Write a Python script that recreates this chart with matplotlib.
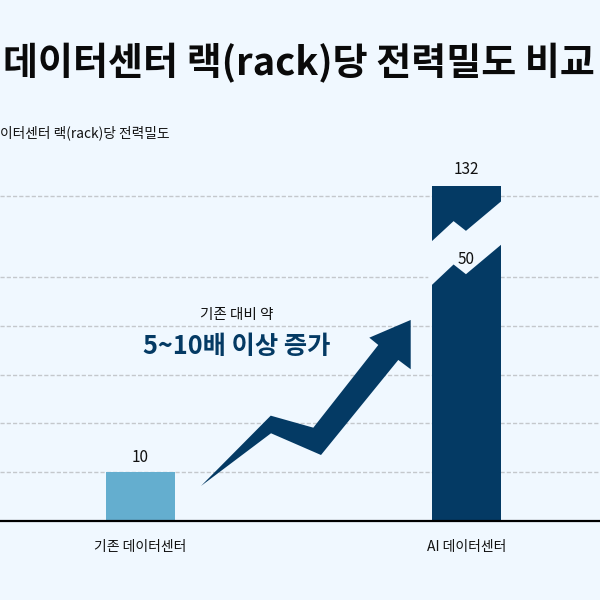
import matplotlib
matplotlib.use("Agg")
import matplotlib.pyplot as plt
from matplotlib.patches import Polygon
import numpy as np

# data
categories = ["기존 데이터센터", "AI 데이터센터"]
legacy_value = 10
ai_low = 50
ai_high = 132
gridline_values = [10, 20, 30, 40, 50, 130]

title = "데이터센터 랙(rack)당 전력밀도 비교"
subtitle = "이터센터 랙(rack)당 전력밀도"
note_small = "기존 대비 약"
note_big = "5~10배 이상 증가"

# colours
bg = "#f0f8ff"
light_blue = "#64aecf"
navy = "#043a64"

plt.rcParams["font.family"] = ["Noto Sans CJK KR", "DejaVu Sans"]

# broken y axis: values between lo and hi are squeezed almost to nothing
lo, hi, squeeze = 57.0, 122.0, 0.026
d_hi = lo + (hi - lo) * squeeze


def fwd(v):
    v = np.asarray(v, dtype=float)
    return np.where(v <= lo, v, np.where(v <= hi, lo + (v - lo) * squeeze, d_hi + (v - hi)))


def inv(d):
    d = np.asarray(d, dtype=float)
    return np.where(d <= lo, d, np.where(d <= d_hi, lo + (d - lo) / squeeze, hi + (d - d_hi)))


fig = plt.figure(figsize=(6, 6), dpi=100, facecolor=bg)
ax = fig.add_axes([0, 0.1322, 1, 0.6178])
ax.set_facecolor(bg)
ax.set_yscale("function", functions=(fwd, inv))
ax.set_ylim(0, float(inv(76.1)))
ax.set_xlim(-0.4312, 1.4104)

bar_w = 0.212
ax.bar(0, legacy_value, width=bar_w, color=light_blue, zorder=2)
ax.bar(1, ai_high, width=bar_w, color=navy, zorder=2)

# zig-zag break cut through the AI bar (in linear "display" units)
cut_f = np.array([-0.05, 0.316, 0.495, 1.05])
cut_lower = np.array([47.7, 52.6, 50.6, 57.2])
cut_upper = np.array([56.7, 61.5, 59.5, 66.1])
cut_x = 1 - bar_w / 2 + cut_f * bar_w
cut_pts = np.column_stack([
    np.concatenate([cut_x, cut_x[::-1]]),
    inv(np.concatenate([cut_lower, cut_upper[::-1]])),
])
ax.add_patch(Polygon(cut_pts, closed=True, facecolor=bg, edgecolor="none", zorder=3))

# value labels
ax.annotate(str(legacy_value), (0, legacy_value), xytext=(0, 10.5), textcoords="offset points",
            ha="center", va="center", fontsize=11, color="#111111", zorder=4)
ax.annotate(str(ai_low), (1, ai_low), xytext=(0, 13), textcoords="offset points",
            ha="center", va="center", fontsize=11, color="#111111", zorder=4)
ax.annotate(str(ai_high), (1, ai_high), xytext=(0, 12), textcoords="offset points",
            ha="center", va="center", fontsize=11, color="#111111", zorder=4)

# rising arrow (decoration, axes fraction)
arrow = [
    (0.335, 0.0936), (0.4512, 0.2833), (0.5222, 0.2509), (0.6305, 0.4740),
    (0.6155, 0.4937), (0.6845, 0.5415), (0.6845, 0.4085), (0.6638, 0.4336),
    (0.535, 0.1772), (0.4517, 0.2358),
]
ax.add_patch(Polygon(arrow, closed=True, transform=ax.transAxes, facecolor=navy,
                     edgecolor="none", zorder=3))

ax.text(0.394, 0.554, note_small, transform=ax.transAxes, ha="center", va="center",
        fontsize=10.5, color="#111111")
ax.text(0.395, 0.469, note_big, transform=ax.transAxes, ha="center", va="center",
        fontsize=18.2, fontweight="heavy", color=navy)

# grid and axes
ax.set_yticks(gridline_values)
ax.yaxis.set_minor_locator(matplotlib.ticker.NullLocator())
ax.set_yticklabels([])
ax.tick_params(axis="y", length=0)
ax.grid(axis="y", color="#c4c8cc", linestyle=(0, (3, 1.5)), linewidth=1, zorder=1)
ax.set_axisbelow(True)
ax.set_xticks([0, 1], categories)
ax.tick_params(axis="x", length=0, pad=14, labelsize=10, labelcolor="#111111")
for side in ["top", "left", "right"]:
    ax.spines[side].set_visible(False)
ax.spines["bottom"].set_linewidth(1.6)
ax.spines["bottom"].set_color("black")
ax.spines["bottom"].set_zorder(5)

fig.text(0.005, 0.895, title, ha="left", va="center", fontsize=27.4, fontweight="heavy",
         color="#0a0a0a")
fig.text(0.0, 0.778, subtitle, ha="left", va="center", fontsize=9.9, color="#111111")

fig.savefig("out.png", dpi=100, facecolor=bg)
